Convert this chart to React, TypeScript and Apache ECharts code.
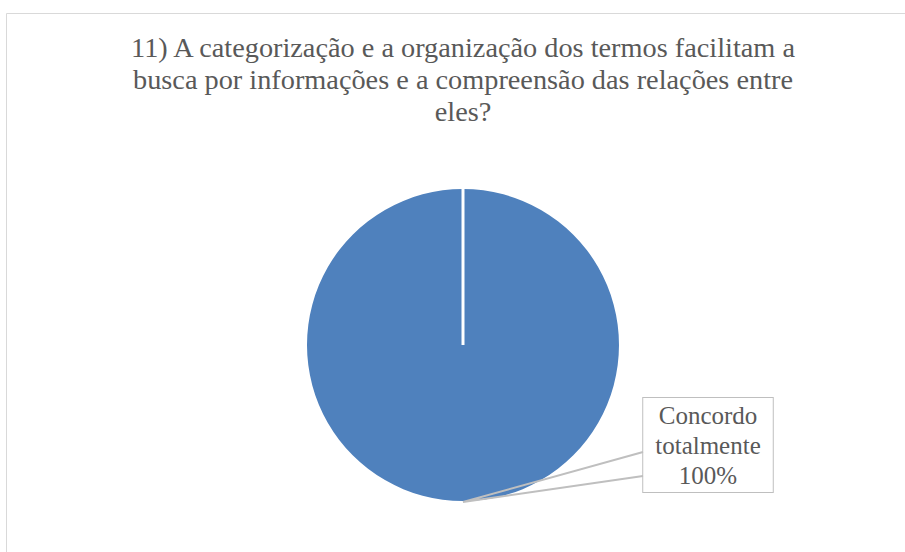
import React, { useEffect, useRef } from "react";
import * as echarts from "echarts";

const titleLines = [
  "11) A categorização e a organização dos termos facilitam a",
  "busca por informações e a compreensão das relações entre",
  "eles?",
];
const categories = ["Concordo totalmente"];
const values = [1];

const PIE_CX = 463;
const PIE_CY = 345;
const PIE_R = 156;
const BOX_CX = 708;
const BOX_CY = 445;
const BOX_LEFT = 643;
const TITLE_CX = 463;
const TITLE_Y0 = 47.5;
const TITLE_LH = 32;

export default function App() {
  const ref = useRef<HTMLDivElement>(null);
  useEffect(() => {
    if (!ref.current) return;
    const chart = echarts.init(ref.current, null, { renderer: "svg" });
    const tipX = PIE_CX;
    const tipY = PIE_CY + PIE_R + 1;
    chart.setOption({
      animation: false,
      backgroundColor: "#ffffff",
      graphic: [
        {
          type: "rect",
          shape: { x: 6.5, y: 13.5, width: 950, height: 600 },
          style: { fill: "none", stroke: "#d9d9d9", lineWidth: 1 },
          silent: true,
          z: -1,
        },
        ...titleLines.map((t, i) => ({
          type: "text",
          x: TITLE_CX,
          y: TITLE_Y0 + i * TITLE_LH,
          silent: true,
          style: {
            text: t,
            align: "center",
            verticalAlign: "middle",
            fontFamily: "Liberation Serif",
            fontSize: 28.3,
            fill: "#595959",
          },
        })),
        {
          type: "line",
          shape: { x1: PIE_CX, y1: PIE_CY - PIE_R - 1, x2: PIE_CX, y2: PIE_CY },
          style: { stroke: "#ffffff", lineWidth: 3 },
          silent: true,
          z: 100,
        },
        {
          type: "polyline",
          shape: { points: [[BOX_LEFT, BOX_CY + 7], [tipX, tipY], [BOX_LEFT, BOX_CY + 31]] },
          style: { fill: "none", stroke: "#bfbfbf", lineWidth: 2 },
          silent: true,
          z: 100,
        },
      ],
      series: [
        {
          type: "pie",
          center: [PIE_CX, PIE_CY],
          radius: [0, PIE_R],
          startAngle: 90,
          clockwise: true,
          silent: true,
          emphasis: { disabled: true },
          itemStyle: { color: "#4F81BD" },
          data: categories.map((c, i) => ({ name: c, value: values[i] })),
          label: {
            show: true,
            position: "outside",
            formatter: (p: any) => p.name.replace(" ", "\n") + "\n" + Math.round(p.percent) + "%",
            fontFamily: "Liberation Serif",
            fontSize: 25,
            lineHeight: 30,
            color: "#595959",
            align: "center",
            backgroundColor: "#ffffff",
            borderColor: "#bfbfbf",
            borderWidth: 1,
            padding: [2, 12, 2, 12],
          },
          labelLine: { show: false },
          labelLayout: () => ({
            x: BOX_CX,
            y: BOX_CY,
            align: "center",
            verticalAlign: "middle",
          }),
        },
      ],
    });
    return () => chart.dispose();
  }, []);
  return (
    <div
      ref={ref}
      style={{ position: "absolute", left: 0, top: 0, width: 905, height: 552 }}
    />
  );
}
